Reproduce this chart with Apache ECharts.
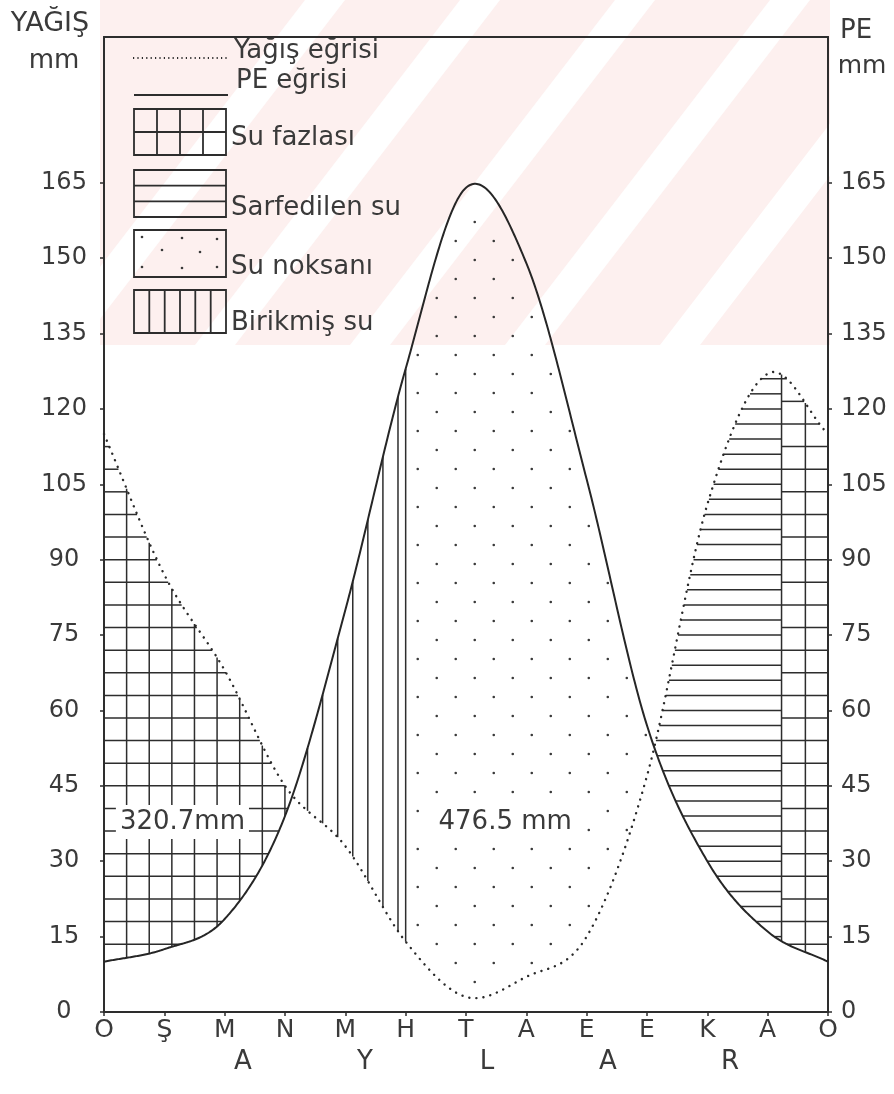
<!DOCTYPE html>
<html>
<head>
<meta charset="utf-8">
<script src="https://cdn.jsdelivr.net/npm/echarts@6/dist/echarts.min.js"></script>
<style>
  html, body { margin: 0; padding: 0; background: #ffffff; }
  #main { width: 894px; height: 1094px; }
</style>
</head>
<body>
<div id="main"></div>
<script>
// ---- Aylık su bilançosu verileri (Ocak → Ocak) ----
const months = ['O', 'Ş', 'M', 'N', 'M', 'H', 'T', 'A', 'E', 'E', 'K', 'A', 'O'];
const precipitation = [115, 87, 68, 45, 33, 14, 3, 7, 15, 47, 101, 127, 115]; // Yağış (mm)
const potentialEvap = [10, 12.5, 18.5, 39, 80, 128, 164, 149, 106, 57, 30, 16, 10]; // PE (mm)
const yTickValues = [0, 15, 30, 45, 60, 75, 90, 105, 120, 135, 150, 165];
const storageEmptyAt = 5;      // month index: stored soil water used up (Haziran)
const storageFullAt = 11.23;   // month index: soil storage refilled, surplus begins
const surplusText = '320.7mm';
const deficitText = '476.5 mm';
const legendLabels = ['Yağış eğrisi', 'PE eğrisi', 'Su fazlası', 'Sarfedilen su', 'Su noksanı', 'Birikmiş su'];
const xTitleLetters = ['A', 'Y', 'L', 'A', 'R'];

const FONT = '"DejaVu Sans", "Noto Sans", sans-serif';
const WEIGHT = 'normal';
const INK = '#2d2d2d';
const TXT = '#3a3a3a';

// cubic Hermite (Catmull-Rom tangents) through the monthly values
function curveAt(vals, t) {
  const n = vals.length - 1;
  if (t <= 0) return vals[0];
  if (t >= n) return vals[n];
  const i = Math.min(Math.floor(t), n - 1);
  const u = t - i;
  const m = k => k === 0 ? vals[1] - vals[0]
                : k === n ? vals[n] - vals[n - 1]
                : (vals[k + 1] - vals[k - 1]) / 2;
  const u2 = u * u, u3 = u2 * u;
  return (2 * u3 - 3 * u2 + 1) * vals[i] + (u3 - 2 * u2 + u) * m(i)
       + (-2 * u3 + 3 * u2) * vals[i + 1] + (u3 - u2) * m(i + 1);
}
const P = t => curveAt(precipitation, t);
const E = t => curveAt(potentialEvap, t);

// where the precipitation and PE curves cross
function crossings() {
  const out = [];
  const step = 0.001, n = months.length - 1;
  let prev = P(0) - E(0);
  for (let t = step; t <= n; t += step) {
    const d = P(t) - E(t);
    if ((d > 0) !== (prev > 0)) out.push(t - step * d / (d - prev));
    prev = d;
  }
  return out;
}
const cross = crossings();

function renderBalance(params, api) {
  const n = months.length - 1;
  const o = api.coord([0, 0]), q = api.coord([1, 1]);
  const pxMonth = q[0] - o[0];
  const pxMm = o[1] - q[1];
  const els = [];
  const seg = (t1, v1, t2, v2, w) => {
    const a = api.coord([t1, v1]), b = api.coord([t2, v2]);
    els.push({ type: 'line', shape: { x1: a[0], y1: a[1], x2: b[0], y2: b[1] },
               style: { stroke: INK, lineWidth: w || 1.5, fill: 'none' } });
  };
  const vline = t => {
    const a = P(t), b = E(t);
    seg(t, Math.min(a, b), t, Math.max(a, b));
  };
  // horizontal hatching between two curves, one line every `step` mm
  const hatchH = (ta, tb, step) => {
    const dt = 0.003;
    for (let k = 1; k * step < 200; k++) {
      const v = k * step;
      let start = null, prev = ta;
      for (let t = ta; ; t += dt) {
        const tt = Math.min(t, tb);
        const lo = Math.min(P(tt), E(tt)), hi = Math.max(P(tt), E(tt));
        const inside = v >= lo && v <= hi;
        if (inside && start === null) start = tt;
        if (!inside && start !== null) { seg(start, v, prev, v); start = null; }
        prev = tt;
        if (tt >= tb) break;
      }
      if (start !== null) seg(start, v, prev, v);
    }
  };
  const c1 = cross[0], c2 = cross[1];
  const gridStep = 4.5;                         // mm
  const gx = gridStep * pxMm / pxMonth;         // square cells
  const vStep = 3 * pxMm / pxMonth;

  // Su fazlası (left)
  hatchH(0, c1, gridStep);
  for (let k = 1; k * gx < c1 - 0.03; k++) vline(k * gx);
  // Birikmiş su
  for (let k = 1; c1 + k * vStep < storageEmptyAt - 0.06; k++) vline(c1 + k * vStep);
  vline(storageEmptyAt);
  // Su noksanı (dots)
  const rowStep = 3.78, colStep = 0.63;
  for (let j = 0; j * rowStep < 200; j++) {
    const v = 2.2 + j * rowStep;
    for (let i = 0; ; i++) {
      const t = storageEmptyAt + 0.2 + (i + (j % 2) * 0.5) * colStep;
      if (t > c2) break;
      if (v > P(t) + 1.5 && v < E(t) - 1.5) {
        const a = api.coord([t, v]);
        els.push({ type: 'circle', shape: { cx: a[0], cy: a[1], r: 1.3 }, style: { fill: '#3a3a3a' } });
      }
    }
  }
  // Sarfedilen su
  hatchH(c2, storageFullAt, 3);
  // Su fazlası (right)
  hatchH(storageFullAt, n, gridStep);
  vline(storageFullAt);
  for (let k = 1; n - k * gx > storageFullAt + 0.03; k++) vline(n - k * gx);

  // curves
  const pts = f => { const a = []; for (let t = 0; t <= n + 1e-9; t += 0.02) a.push(api.coord([t, f(t)])); return a; };
  els.push({ type: 'polyline', shape: { points: pts(E) },
             style: { stroke: '#262626', lineWidth: 2, fill: 'none' } });
  els.push({ type: 'polyline', shape: { points: pts(P) },
             style: { stroke: '#2a2a2a', lineWidth: 2.4, fill: 'none', lineDash: [0.1, 7], lineCap: 'round' } });

  // totals
  const label = (text, t, v) => {
    const a = api.coord([t, v]);
    els.push({ type: 'text', style: { text, x: a[0], y: a[1], align: 'center', verticalAlign: 'middle',
      fontSize: 26, fontFamily: FONT, fontWeight: WEIGHT, fill: TXT, backgroundColor: '#ffffff', padding: [4, 4] } });
  };
  label(surplusText, 1.3, 37.8);
  label(deficitText, 6.65, 37.8);

  return { type: 'group', children: els };
}

// legend keys drawn as small boxes like a hand-lettered key
function legendGraphics() {
  const g = [];
  // faint pink watermark band with light diagonal stripes behind the upper part
  g.push({ type: 'rect', z: -100, silent: true, shape: { x: 100, y: 0, width: 730, height: 345 },
           style: { fill: '#fdf0ef' } });
  [60, 215, 370, 525, 680].forEach(xb => g.push({ type: 'polygon', z: -99, silent: true,
    shape: { points: [[xb - 20, 345], [xb + 20, 345], [xb + 285, 0], [xb + 245, 0]] },
    style: { fill: '#ffffff' } }));
  g.push({ type: 'rect', z: -98, silent: true, shape: { x: 0, y: 0, width: 100, height: 345 }, style: { fill: '#ffffff' } });
  g.push({ type: 'rect', z: -98, silent: true, shape: { x: 830, y: 0, width: 64, height: 345 }, style: { fill: '#ffffff' } });

  const L = (x1, y1, x2, y2, extra) => g.push({ type: 'line', shape: { x1, y1, x2, y2 },
    style: Object.assign({ stroke: INK, lineWidth: 1.8 }, extra || {}) });
  const R = (x, y, w, h) => g.push({ type: 'rect', shape: { x, y, width: w, height: h },
    style: { stroke: INK, lineWidth: 1.8, fill: 'none' } });
  const T = (text, x, y) => g.push({ type: 'text', x, y, style: { text, fontSize: 26, fontFamily: FONT,
    fontWeight: WEIGHT, fill: TXT, verticalAlign: 'middle' } });

  L(133, 58, 228, 58, { lineWidth: 2, lineDash: [1.2, 3.2] });
  T(legendLabels[0], 234, 51);
  L(134, 95, 228, 95, { lineWidth: 2 });
  T(legendLabels[1], 236, 81);

  R(134, 109, 92, 46);
  [157, 180, 203].forEach(x => L(x, 109, x, 155));
  L(134, 132, 226, 132);
  T(legendLabels[2], 231, 138);

  R(134, 170, 92, 47);
  [185.7, 201.3].forEach(y => L(134, y, 226, y));
  T(legendLabels[3], 231, 208);

  R(134, 230, 92, 47);
  [[142, 237], [182, 238], [217, 239], [162, 250], [200, 252], [142, 267], [182, 268], [217, 267]]
    .forEach(([cx, cy]) => g.push({ type: 'circle', shape: { cx, cy, r: 1.3 }, style: { fill: '#3a3a3a' } }));
  T(legendLabels[4], 231, 267);

  R(134, 290, 92, 43);
  [149.3, 164.7, 180, 195.3, 210.7].forEach(x => L(x, 290, x, 333));
  T(legendLabels[5], 231, 323);

  // axis captions
  const C = (text, x, y, size) => g.push({ type: 'text', x, y, style: { text, fontSize: size, fontFamily: FONT,
    fontWeight: WEIGHT, fill: TXT, align: 'center', verticalAlign: 'middle' } });
  C('YAĞIŞ', 50, 24, 27);
  C('mm', 54, 61, 26);
  C('PE', 856, 31, 26);
  C('mm', 862, 66, 25);
  const xs = [243, 365, 487, 608, 730];
  xTitleLetters.forEach((s, i) => C(s, xs[i], 1062, 26));
  return g;
}

const valueAxis = (position, labelOpts) => ({
  type: 'value', position, min: 0, max: 194, interval: 15,
  axisLine: { show: true, lineStyle: { color: INK, width: 1.8 } },
  axisTick: { show: true, length: 4, lineStyle: { color: INK, width: 1.5 }, customValues: yTickValues },
  axisLabel: Object.assign({ color: TXT, fontSize: 24, fontFamily: FONT, fontWeight: WEIGHT,
    customValues: yTickValues, formatter: v => (v <= 165 ? String(v) : '') }, labelOpts),
  splitLine: { show: false }
});

const option = {
  backgroundColor: '#ffffff',
  animation: false,
  grid: { left: 104, right: 66, top: 37, bottom: 82, show: true, borderColor: INK, borderWidth: 1.8,
          backgroundColor: 'transparent' },
  xAxis: {
    type: 'value', min: 0, max: months.length - 1, interval: 1,
    axisLine: { show: true, lineStyle: { color: INK, width: 2 } },
    axisTick: { show: true, length: 4, lineStyle: { color: INK, width: 1.5 } },
    axisLabel: { color: TXT, fontSize: 25, fontFamily: FONT, fontWeight: WEIGHT, margin: 6,
                 formatter: v => months[v] !== undefined ? months[v] : '' },
    splitLine: { show: false }
  },
  yAxis: [
    valueAxis('left', { align: 'center', margin: 40 }),
    valueAxis('right', { align: 'left', margin: 13 })
  ],
  series: [{
    type: 'custom',
    renderItem: renderBalance,
    data: [[0, 0]],
    clip: false,
    silent: true
  }],
  graphic: legendGraphics()
};

const chart = echarts.init(document.getElementById('main'), null, { renderer: 'canvas' });
chart.setOption(option);
</script>
</body>
</html>
